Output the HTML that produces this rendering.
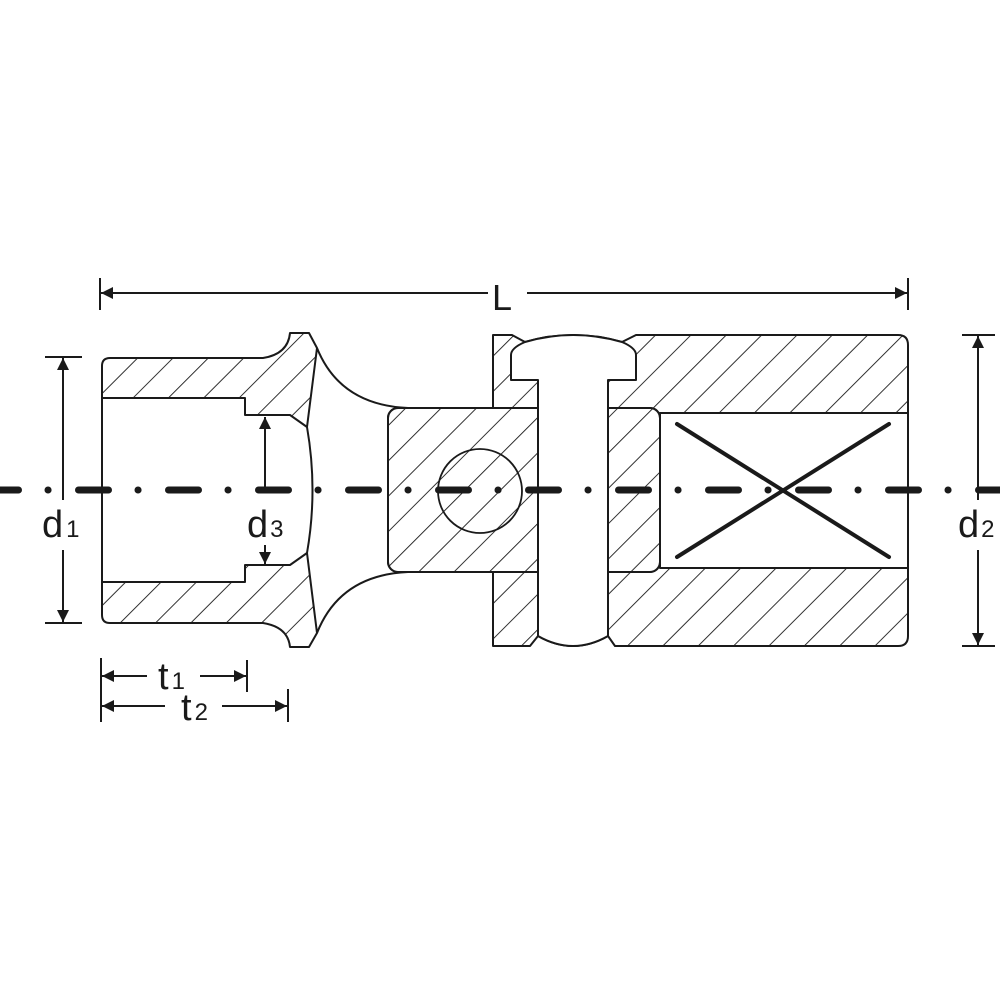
<!DOCTYPE html>
<html><head><meta charset="utf-8"><style>
html,body{margin:0;padding:0;background:#fff}
svg{display:block}
text{font-family:"Liberation Sans",sans-serif;fill:#1a1a1a}
</style></head><body>
<svg width="1000" height="1000" viewBox="0 0 1000 1000" xmlns="http://www.w3.org/2000/svg">
<defs>
<pattern id="h" patternUnits="userSpaceOnUse" width="25" height="25" patternTransform="rotate(45)">
<line x1="0" y1="0" x2="0" y2="25" stroke="#1a1a1a" stroke-width="1.8"/>
</pattern>
<marker id="a" viewBox="0 0 10 10" refX="10" refY="5" markerWidth="20" markerHeight="12" markerUnits="userSpaceOnUse" orient="auto-start-reverse">
<path d="M0,0 L10,5 L0,10 Z" fill="#1a1a1a"/>
</marker>
</defs>
<g stroke="#1a1a1a" stroke-width="2" stroke-linejoin="round">
<path d="M110,358 L263,358 Q288,354 290,333 L309,333 L317,348 L307,427 L290,415 L245,415 L245,398 L102,398 L102,366 Q102,358 110,358 Z" fill="url(#h)"/>
<path d="M110,623 L263,623 Q288,627 290,647 L309,647 L317,633 L307,553 L290,565 L245,565 L245,582 L102,582 L102,615 Q102,623 110,623 Z" fill="url(#h)"/>
<line x1="102" y1="398" x2="102" y2="582"/>
<path d="M307,427 Q318,490 307,553" fill="none"/>
<path d="M317,348 Q340,405 408,408" fill="none"/>
<path d="M317,633 Q340,575 408,572" fill="none"/>
<path d="M493,335 L512,335 L525,342 Q573,328 622,342 L636,335 L898,335 Q908,335 908,345 L908,636 Q908,646 898,646 L615,646 L608,636 Q573,656 538,636 L530,646 L493,646 Z" fill="url(#h)"/>
<rect x="660" y="413" width="248" height="155" fill="#fff"/>
<line x1="660" y1="413" x2="908" y2="413"/>
<line x1="660" y1="568" x2="908" y2="568"/>
<rect x="388" y="408" width="272" height="164" rx="10" fill="#fff"/>
<rect x="388" y="408" width="272" height="164" rx="10" fill="url(#h)"/>
<path d="M511,380 L511,355 Q511,348 525,342 Q573,328 622,342 Q636,348 636,355 L636,380 L608,380 L608,636 Q573,656 538,636 L538,380 Z" fill="#fff"/>
<circle cx="480" cy="491" r="42" fill="none" stroke-width="1.8"/>
</g>
<g stroke="#1a1a1a" stroke-width="4" stroke-linecap="round">
<line x1="677" y1="424" x2="889" y2="557"/>
<line x1="889" y1="424" x2="677" y2="557"/>
</g>
<path d="M-11.5,490 L1010,490" stroke="#1a1a1a" stroke-width="7" stroke-linecap="round" stroke-dasharray="30 29.5 0.1 30.4" fill="none"/>
<g stroke="#1a1a1a" stroke-width="2" fill="none">
<line x1="100" y1="278" x2="100" y2="310"/>
<line x1="908" y1="278" x2="908" y2="310"/>
<line x1="101" y1="293" x2="488" y2="293" marker-start="url(#a)"/>
<line x1="527" y1="293" x2="907" y2="293" marker-end="url(#a)"/>
<line x1="45" y1="357" x2="82" y2="357"/>
<line x1="45" y1="623" x2="82" y2="623"/>
<line x1="63" y1="358" x2="63" y2="500" marker-start="url(#a)"/>
<line x1="63" y1="550" x2="63" y2="622" marker-end="url(#a)"/>
<line x1="962" y1="335" x2="995" y2="335"/>
<line x1="962" y1="646" x2="995" y2="646"/>
<line x1="978" y1="336" x2="978" y2="500" marker-start="url(#a)"/>
<line x1="978" y1="550" x2="978" y2="645" marker-end="url(#a)"/>
<line x1="265" y1="417" x2="265" y2="487" marker-start="url(#a)"/>
<line x1="265" y1="545" x2="265" y2="564" marker-end="url(#a)"/>
<line x1="101" y1="658" x2="101" y2="722"/>
<line x1="247" y1="660" x2="247" y2="692"/>
<line x1="288" y1="689" x2="288" y2="722"/>
<line x1="102" y1="676" x2="147" y2="676" marker-start="url(#a)"/>
<line x1="200" y1="676" x2="246" y2="676" marker-end="url(#a)"/>
<line x1="102" y1="706" x2="165" y2="706" marker-start="url(#a)"/>
<line x1="222" y1="706" x2="287" y2="706" marker-end="url(#a)"/>
</g>
<text x="492" y="310" font-size="36">L</text>
<text x="42" y="537" font-size="38">d<tspan font-size="24" dx="3">1</tspan></text>
<text x="247" y="537" font-size="38">d<tspan font-size="24" dx="2">3</tspan></text>
<text x="958" y="537" font-size="38">d<tspan font-size="24" dx="2">2</tspan></text>
<text x="158" y="689" font-size="38">t<tspan font-size="24" dx="3">1</tspan></text>
<text x="181" y="720" font-size="38">t<tspan font-size="24" dx="3">2</tspan></text>
</svg>
</body></html>
